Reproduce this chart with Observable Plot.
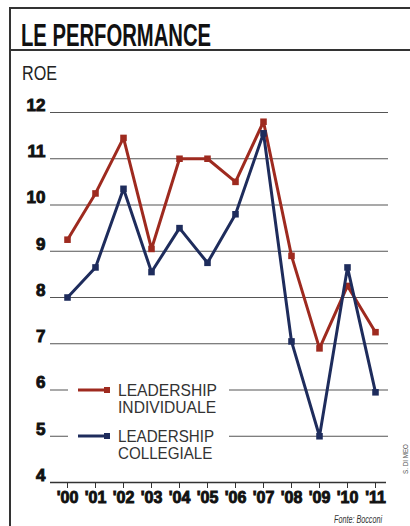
<!DOCTYPE html>
<html><head><meta charset="utf-8">
<script src="https://cdn.jsdelivr.net/npm/d3@7"></script>
<script src="https://cdn.jsdelivr.net/npm/@observablehq/plot@0.6"></script>
<style>
html,body{margin:0;padding:0;background:#fff;}
#wrap{position:relative;width:410px;height:526px;overflow:hidden;background:#fff;font-family:"Liberation Sans",Arial,sans-serif;}
.fit{position:absolute;white-space:nowrap;display:inline-block;transform-origin:left top;}
#title{left:21px;top:19px;font-size:32px;font-weight:bold;color:#111;line-height:32px;}
#roe{left:22px;top:62px;font-size:21px;color:#222;line-height:21px;}
#topline{position:absolute;left:9px;top:7px;width:401px;height:2px;background:#333;}
#midline{position:absolute;left:9px;top:49px;width:401px;height:2px;background:#333;}
#leftline{position:absolute;left:9px;top:7px;width:2px;height:519px;background:#333;}
#chart{position:absolute;left:0;top:85px;}
.leg{position:absolute;left:68px;width:161px;height:38px;background:#fff;}
.leg svg{position:absolute;left:0;top:0;}
.lt{font-size:17px;line-height:17px;color:#333;}
#credit{left:402px;top:474px;transform-origin:left top;font-size:8px;line-height:8px;color:#555;}
#fonte{top:515px;font-size:10px;line-height:10px;font-style:italic;color:#333;}
#chart svg text{font-weight:bold !important;stroke:#111;stroke-width:0.9px;fill:#111;}
</style></head>
<body>
<div id="wrap">
  <div id="topline"></div><div id="midline"></div><div id="leftline"></div>
  <div id="title" class="fit">LE PERFORMANCE</div>
  <div id="roe" class="fit">ROE</div>
  <div id="chart"></div>
  <div id="legend"></div>
  <div id="credit" class="fit">S. DI MEO</div>
  <div id="fonte" class="fit">Fonte: Bocconi</div>
</div>
<script>
const years = ["'00","'01","'02","'03","'04","'05","'06","'07","'08","'09","'10","'11"];
const individuale = [9.25,10.25,11.45,9.05,11.0,11.0,10.5,11.8,8.9,6.9,8.25,7.25];
const collegiale = [8.0,8.65,10.35,8.55,9.5,8.75,9.8,11.55,7.05,5.0,8.65,5.95];
const yTicks = [4,5,6,7,8,9,10,11,12];
const seriesLine1 = ["LEADERSHIP","LEADERSHIP"];
const seriesLine2 = ["INDIVIDUALE","COLLEGIALE"];
const colors = ["#9e2a1f","#1e2c5c"];

const data = [];
years.forEach((y,i)=>{ data.push({year:y, value:individuale[i], s:0}); });
years.forEach((y,i)=>{ data.push({year:y, value:collegiale[i], s:1}); });

const chart = Plot.plot({
  width: 410,
  height: 441,
  marginTop: 27,
  marginBottom: 44,
  marginLeft: 63,
  marginRight: 32,
  style: {background:"transparent", overflow:"visible", fontFamily:"Liberation Sans, Arial, sans-serif", fontWeight:"bold"},
  x: {type:"point", domain: years, padding: 0},
  y: {domain:[4,12], ticks: yTicks},
  marks: [
    Plot.ruleY(yTicks.filter(d=>d>4), {stroke:"#555", strokeWidth:1.1, insetLeft:-13, insetRight:-10}),
    Plot.ruleY([4], {stroke:"#333", strokeWidth:1.5, insetLeft:-13, insetRight:-8}),
    Plot.axisX({tickSize:6, tickPadding:3, fontSize:16, label:null, stroke:"#333"}),
    Plot.axisY({ticks: yTicks, tickSize:0, tickPadding:18, dy:-7, fontSize:17, label:null}),
    Plot.line(data.filter(d=>d.s===0), {x:"year", y:"value", stroke:colors[0], strokeWidth:3}),
    Plot.dot(data.filter(d=>d.s===0), {x:"year", y:"value", symbol:"square", r:3.7, fill:colors[0], stroke:"none"}),
    Plot.line(data.filter(d=>d.s===1), {x:"year", y:"value", stroke:colors[1], strokeWidth:3}),
    Plot.dot(data.filter(d=>d.s===1), {x:"year", y:"value", symbol:"square", r:3.7, fill:colors[1], stroke:"none"})
  ]
});
chart.querySelectorAll("text").forEach(t=>{
  t.setAttribute("font-weight","bold");
  t.setAttribute("stroke","#111");
  t.setAttribute("stroke-width","0.9");
});
document.getElementById("chart").appendChild(chart);

function fit(el, w){
  const sw = el.getBoundingClientRect().width;
  el.style.transform = `scaleX(${w/sw})`;
}

// legend overlay aligned with the 6 and 5 gridlines
const yScale = chart.scale("y");
const legend = document.getElementById("legend");
[6,5].forEach((v,i)=>{
  const yy = 85 + yScale.apply(v);
  const box = document.createElement("div");
  box.className = "leg";
  box.style.top = (yy - 8) + "px";
  box.innerHTML = `<svg width="50" height="16"><line x1="10" y1="8" x2="37" y2="8" stroke="${colors[i]}" stroke-width="3"/><rect x="36" y="5" width="6" height="6" fill="${colors[i]}"/></svg>`;
  legend.appendChild(box);
  const t = document.createElement("div");
  t.className = "fit lt";
  t.innerHTML = seriesLine1[i] + "<br>" + seriesLine2[i];
  t.style.left = "118px"; t.style.top = (yy - 8) + "px";
  legend.appendChild(t);
  fit(t, i===0 ? 99 : 96);
});

fit(document.getElementById("title"), 190);
fit(document.getElementById("roe"), 35);
const fonte = document.getElementById("fonte");
fonte.style.left = (382 - 48) + "px";
fit(fonte, 48);
const credit = document.getElementById("credit");
const cw = credit.getBoundingClientRect().width;
credit.style.transform = `rotate(-90deg) scaleX(${30/cw})`;
</script>
</body></html>
